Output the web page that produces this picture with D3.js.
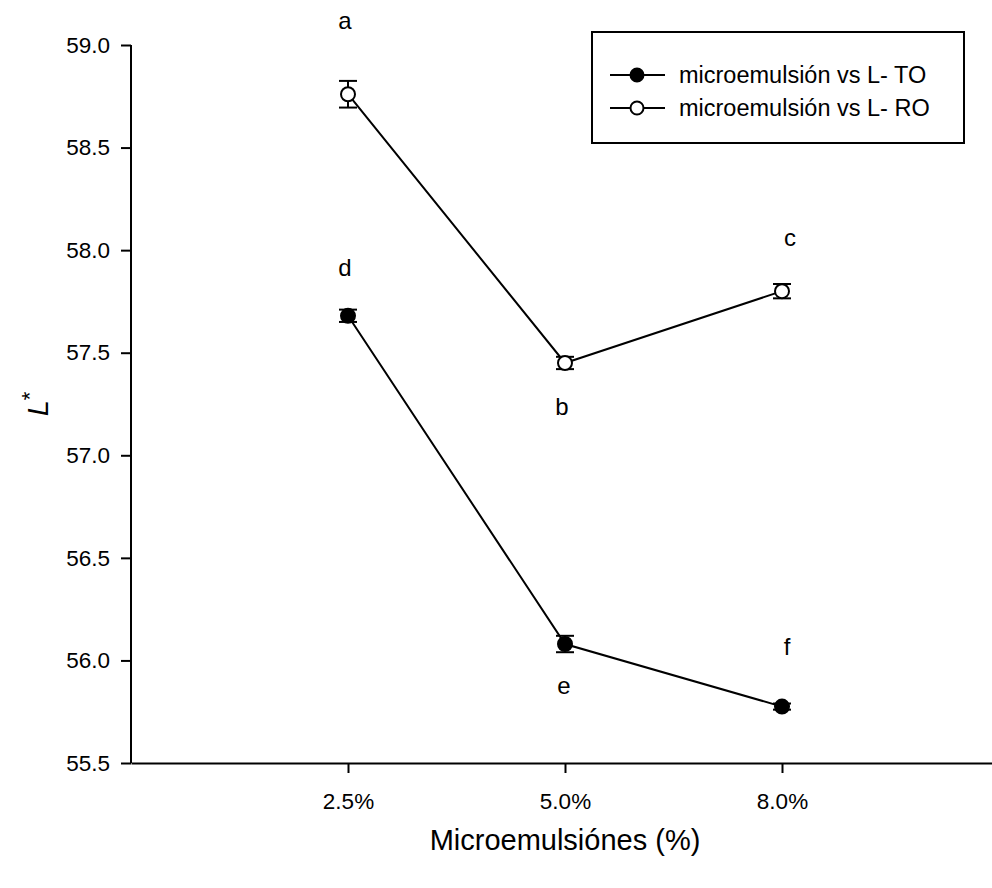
<!DOCTYPE html>
<html><head><meta charset="utf-8">
<script src="https://cdn.jsdelivr.net/npm/d3@7"></script>
<style>body{margin:0;background:#fff}svg{display:block;font-family:"Liberation Sans",Arial,sans-serif}</style>
</head><body>
<svg id="c" width="992" height="888"></svg>
<script>
const categories = ["2.5%", "5.0%", "8.0%"];
const seriesNames = ["microemulsión vs L- TO", "microemulsión vs L- RO"];
const toValues = [57.68, 56.08, 55.775];
const toErrors = [0.03, 0.04, 0.015];
const roValues = [58.76, 57.45, 57.80];
const roErrors = [0.065, 0.03, 0.035];
const toLetters = ["d", "e", "f"];
const roLetters = ["a", "b", "c"];
const yTicks = [55.5, 56.0, 56.5, 57.0, 57.5, 58.0, 58.5, 59.0];

const svg = d3.select("#c");
const x = d3.scaleLinear().domain([0, 4]).range([131, 999]);
const y = d3.scaleLinear().domain([55.5, 59.0]).range([763, 45]);

// axes
const xAxis = svg.append("g").attr("transform", "translate(0,763)")
  .call(d3.axisBottom(x).tickValues([1,2,3]).tickFormat((d,i)=>categories[i]).tickSize(10).tickPadding(20).tickSizeOuter(0));
const yAxis = svg.append("g").attr("transform", "translate(131,0)")
  .call(d3.axisLeft(y).tickValues(yTicks).tickFormat(d3.format(".1f")).tickSize(10).tickPadding(11).tickSizeOuter(0));
[xAxis, yAxis].forEach(g => {
  g.selectAll("path,line").attr("stroke", "#000").attr("stroke-width", 2);
  g.selectAll("text").attr("font-size", 22.5).attr("fill", "#000").attr("font-family", '"Liberation Sans",Arial,sans-serif');
});
yAxis.select(".domain").attr("d", "M0,45V763");

// axis titles
svg.append("text").attr("x", 565).attr("y", 850).attr("text-anchor", "middle")
  .attr("font-size", 29).text("Microemulsiónes (%)");
const yl = svg.append("text").attr("transform", "translate(48,404) rotate(-90)").attr("text-anchor", "middle").attr("font-size", 29);
yl.append("tspan").attr("font-style", "italic").text("L");
yl.append("tspan").attr("dy", -11).attr("font-size", 22).text("*");

function drawSeries(vals, errs, filled, letters, letterOffsets) {
  const pts = vals.map((v, i) => [x(i + 1), y(v)]);
  svg.append("path").attr("d", d3.line()(pts)).attr("fill", "none").attr("stroke", "#000").attr("stroke-width", 2);
  vals.forEach((v, i) => {
    const cx = x(i + 1);
    const y1 = y(v + errs[i]), y2 = y(v - errs[i]);
    svg.append("line").attr("x1", cx).attr("x2", cx).attr("y1", y1).attr("y2", y2).attr("stroke", "#000").attr("stroke-width", 2);
    [y1, y2].forEach(yy => svg.append("line").attr("x1", cx - 9).attr("x2", cx + 9).attr("y1", yy).attr("y2", yy).attr("stroke", "#000").attr("stroke-width", 2));
    svg.append("circle").attr("cx", cx).attr("cy", y(v)).attr("r", 7)
      .attr("fill", filled ? "#000" : "#fff").attr("stroke", "#000").attr("stroke-width", 2);
    svg.append("text").attr("x", cx + letterOffsets[i][0]).attr("y", y(v) + letterOffsets[i][1])
      .attr("text-anchor", "middle").attr("font-size", 24).text(letters[i]);
  });
}
drawSeries(roValues, roErrors, false, roLetters, [[-3, -65], [-3, 52], [8, -45]]);
drawSeries(toValues, toErrors, true, toLetters, [[-3, -40], [-1, 50], [5, -52]]);

// legend
const lg = svg.append("g");
lg.append("rect").attr("x", 592).attr("y", 32).attr("width", 372).attr("height", 111)
  .attr("fill", "#fff").attr("stroke", "#000").attr("stroke-width", 2);
seriesNames.forEach((n, i) => {
  const yy = 75 + i * 33;
  lg.append("line").attr("x1", 610).attr("x2", 665).attr("y1", yy).attr("y2", yy).attr("stroke", "#000").attr("stroke-width", 2);
  lg.append("circle").attr("cx", 637).attr("cy", yy).attr("r", 6.5)
    .attr("fill", i === 0 ? "#000" : "#fff").attr("stroke", "#000").attr("stroke-width", 2);
  lg.append("text").attr("x", 679).attr("y", yy + 8).attr("font-size", 23.5).text(n);
});
</script>
</body></html>
